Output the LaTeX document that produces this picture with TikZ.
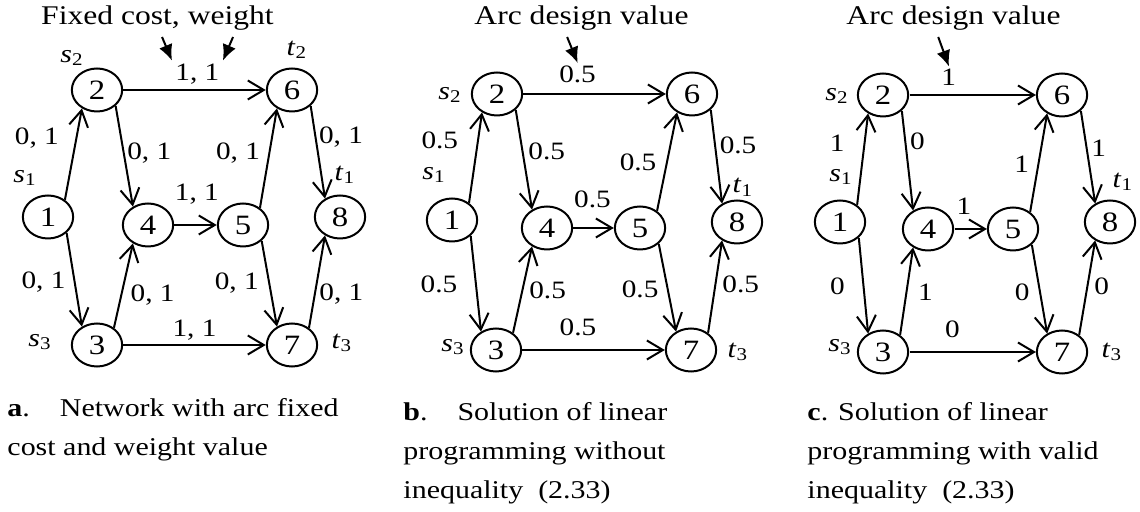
\documentclass[tikz,border=0pt]{standalone}
\usepackage{fontspec}
\setmainfont{Liberation Serif}
\usetikzlibrary{arrows.meta}

\tikzset{
	every node/.style={transform shape},
	vertex/.style={draw, circle, minimum size=21.5pt, inner sep=0pt, line width=1pt, font=\fontsize{14}{16}\selectfont},
	arc/.style={line width=1pt, -{Straight Barb[length=8pt,width=9.5pt]}},
	val/.style={inner sep=1pt, font=\fontsize{12.5}{14}\selectfont},
	term/.style={inner sep=0pt, font=\fontsize{12.8}{15}\selectfont},
	callout/.style={line width=1pt, -{Latex[length=8pt,width=7pt]}},
	ttl/.style={inner sep=0pt, anchor=base, font=\fontsize{13.5}{16}\selectfont},
	capt/.style={inner sep=0pt, anchor=north west, align=left, font=\fontsize{12.8}{19.5}\selectfont}
}
\newcommand{\sv}[1]{\textit{s}\textsubscript{#1}}
\newcommand{\tv}[1]{\textit{t}\textsubscript{#1}}

\begin{document}
\begin{tikzpicture}[x=0.42735pt, y=-0.5pt, xscale=1.17]
		\useasboundingbox (0,0) rectangle (1140,512);
		% a
		\node[vertex] (a1) at (48,217) {1};
		\node[vertex] (a2) at (97,90) {2};
		\node[vertex] (a3) at (97,345) {3};
		\node[vertex] (a4) at (148,225) {4};
		\node[vertex] (a5) at (243,225) {5};
		\node[vertex] (a6) at (292,90) {6};
		\node[vertex] (a7) at (292,345) {7};
		\node[vertex] (a8) at (340,217) {8};
		\node[term] (sa1) at (25,178) {\sv{1}};
		\node[term] (sa2) at (72,58) {\sv{2}};
		\node[term] (sa3) at (40,342) {\sv{3}};
		\node[term] (ta1) at (345,175) {\tv{1}};
		\node[term] (ta2) at (297,50) {\tv{2}};
		\node[term] (ta3) at (342,343) {\tv{3}};
		\draw[arc] (a1.50) -- node[val, left=6pt, pos=.67] {0, 1} (a2.235);
		\draw[arc] (a2.315) -- node[val, right=0pt, pos=.47] {0, 1} (a4.125);
		\draw[arc] (a2) -- node[val, above=1.5pt, pos=.52] (la26) {1, 1} (a6);
		\draw[arc] (a4) -- node[val, above=9pt, pos=.53] {1, 1} (a5);
		\draw[arc] (a5.50) -- node[val, left=2.5pt, pos=.55] {0, 1} (a6.235);
		\draw[arc] (a6.315) -- node[val, right=0pt, pos=.34] {0, 1} (a8.125);
		\draw[arc] (a1.315) -- node[val, left=2.5pt, pos=.53] {0, 1} (a3.125);
		\draw[arc] (a3.50) -- node[val, right=2.5pt, pos=.39] {0, 1} (a4.235);
		\draw[arc] (a3) -- node[val, above=1pt, pos=.5] {1, 1} (a7);
		\draw[arc] (a5.315) -- node[val, left=3pt, pos=.49] {0, 1} (a7.125);
		\draw[arc] (a7.50) -- node[val, right=0.5pt, pos=.36] {0, 1} (a8.235);
		\node[ttl] (fca) at (157.5,25) {Fixed cost, weight};
		\coordinate (fcl) at (162,37);
		\coordinate (fcr) at (233,37);
		\draw[callout] (fcl) -- (la26.north west);
		\draw[callout] (fcr) -- (la26.north east);
		\node[capt] (cpa) at (7,398.5) {\textbf{a}.\quad Network with arc fixed\\cost and weight value};
		% b
		\node[vertex] (b1) at (452,220) {1};
		\node[vertex] (b2) at (497,94) {2};
		\node[vertex] (b3) at (496,350) {3};
		\node[vertex] (b4) at (547,228) {4};
		\node[vertex] (b5) at (640,228) {5};
		\node[vertex] (b6) at (692,94) {6};
		\node[vertex] (b7) at (691,350) {7};
		\node[vertex] (b8) at (737,222) {8};
		\node[term] (sb1) at (434,175) {\sv{1}};
		\node[term] (sb2) at (450,95) {\sv{2}};
		\node[term] (sb3) at (453,347) {\sv{3}};
		\node[term] (tb1) at (743,187) {\tv{1}};
		\node[term] (tb3) at (738,352) {\tv{3}};
		\draw[arc] (b1.50) -- node[val, left=7pt, pos=.69] {0.5} (b2.235);
		\draw[arc] (b2.315) -- node[val, right=1pt, pos=.42] {0.5} (b4.125);
		\draw[arc] (b2) -- node[val, above=4pt, pos=.38] (lb26) {0.5} (b6);
		\draw[arc] (b4) -- node[val, above=8.5pt, pos=.47] {0.5} (b5);
		\draw[arc] (b5.50) -- node[val, left=3pt, pos=.49] {0.5} (b6.235);
		\draw[arc] (b6.315) -- node[val, right=0.5pt, pos=.38] {0.5} (b8.125);
		\draw[arc] (b1.315) -- node[val, left=6.5pt, pos=.51] {0.5} (b3.125);
		\draw[arc] (b3.50) -- node[val, right=1.5pt, pos=.49] {0.5} (b4.235);
		\draw[arc] (b3) -- node[val, above=5.5pt, pos=.39] {0.5} (b7);
		\draw[arc] (b5.315) -- node[val, left=2.5pt, pos=.52] {0.5} (b7.125);
		\draw[arc] (b7.50) -- node[val, right=1.5pt, pos=.52] {0.5} (b8.235);
		\node[ttl] (adb) at (581.5,25) {Arc design value};
		\coordinate (adbc) at (567,37);
		\draw[callout] (adbc) -- (lb26.north);
		\node[capt] (cpb) at (403,402.5) {\textbf{b}.\quad Solution of linear\\programming without\\inequality\ \ (2.33)};
		% c
		\node[vertex] (c1) at (840,222) {1};
		\node[vertex] (c2) at (883,95) {2};
		\node[vertex] (c3) at (883,352) {3};
		\node[vertex] (c4) at (928,229) {4};
		\node[vertex] (c5) at (1013,229) {5};
		\node[vertex] (c6) at (1062,95) {6};
		\node[vertex] (c7) at (1062,352) {7};
		\node[vertex] (c8) at (1110,222) {8};
		\node[term] (sc1) at (841,177) {\sv{1}};
		\node[term] (sc2) at (837,96) {\sv{2}};
		\node[term] (sc3) at (840,347) {\sv{3}};
		\node[term] (tc1) at (1123,182) {\tv{1}};
		\node[term] (tc3) at (1112,352) {\tv{3}};
		\draw[arc] (c1.50) -- node[val, left=7pt, pos=.67] {1} (c2.235);
		\draw[arc] (c2.315) -- node[val, right=0.5pt, pos=.31] {0} (c4.125);
		\draw[arc] (c2) -- node[val, above=3pt, pos=.31] (lc26) {1} (c6);
		\draw[arc] (c4) -- node[val, above=5.5pt, pos=.29] {1} (c5);
		\draw[arc] (c5.50) -- node[val, left=2.5pt, pos=.48] {1} (c6.235);
		\draw[arc] (c6.315) -- node[val, right=0.5pt, pos=.40] {1} (c8.125);
		\draw[arc] (c1.315) -- node[val, left=6.5pt, pos=.51] {0} (c3.125);
		\draw[arc] (c3.50) -- node[val, right=3.5pt, pos=.49] {1} (c4.235);
		\draw[arc] (c3) -- node[val, above=5.5pt, pos=.34] {0} (c7);
		\draw[arc] (c5.315) -- node[val, left=3pt, pos=.53] {0} (c7.125);
		\draw[arc] (c7.50) -- node[val, right=1.5pt, pos=.51] {0} (c8.235);
		\node[ttl] (adc) at (953.5,25) {Arc design value};
		\coordinate (adcc) at (938,37);
		\draw[callout] (adcc) -- (lc26.north);
		\node[capt] (cpc) at (807,402.5) {\textbf{c}. Solution of linear\\programming with valid\\inequality\ \ (2.33)};
	\end{tikzpicture}
\end{document}
